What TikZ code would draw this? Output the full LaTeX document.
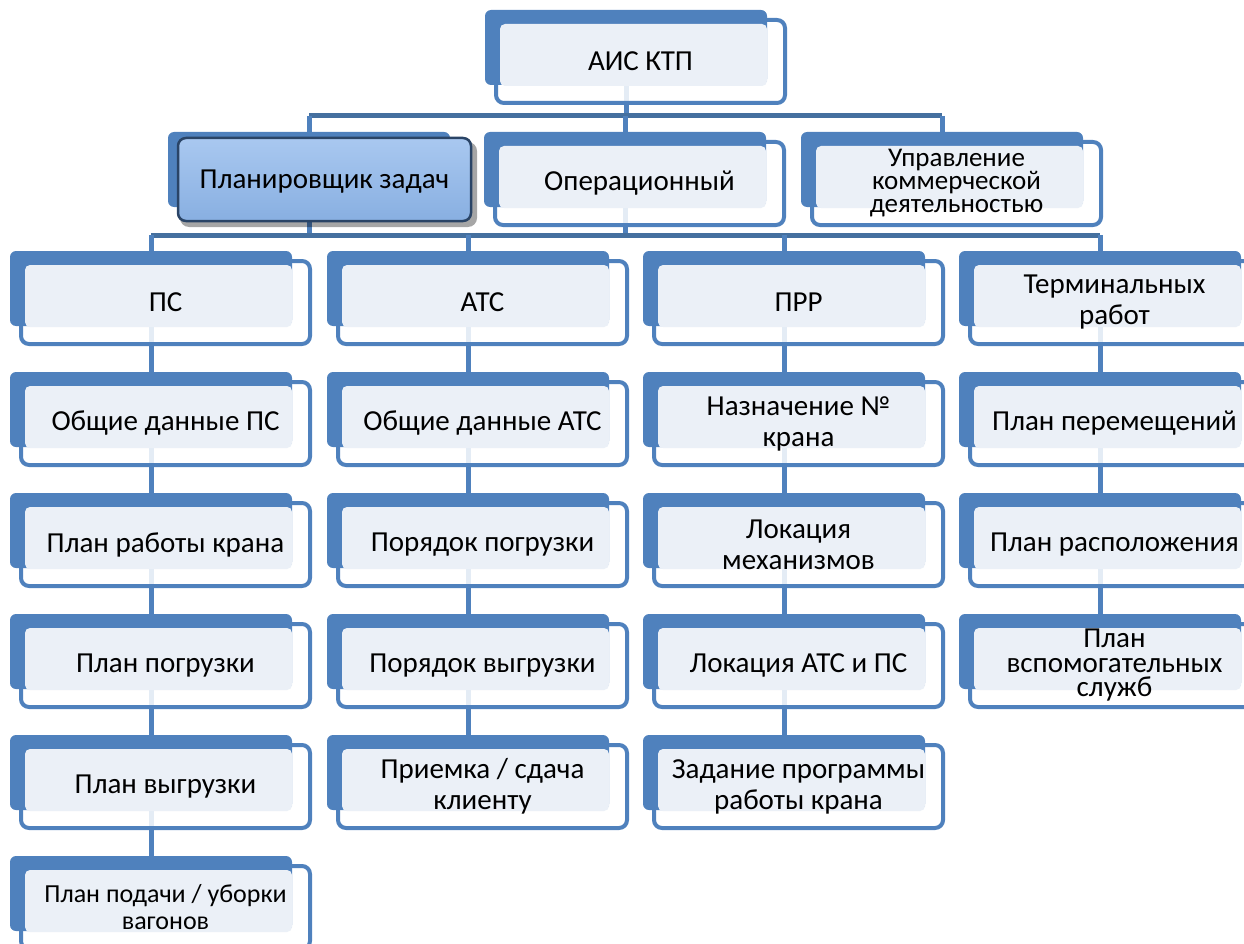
\documentclass[tikz,border=0pt]{standalone}
\usepackage{fontspec}
\setmainfont{Carlito}
\definecolor{accent}{HTML}{4F81BD}
\definecolor{lightfill}{HTML}{EBF0F7}
\definecolor{busline}{HTML}{45709F}
\definecolor{hlborder}{HTML}{2A4466}
\definecolor{hltop}{HTML}{A9C8F0}
\definecolor{hlbot}{HTML}{88AFE1}
\pgfdeclarelayer{conn}
\pgfsetlayers{conn,main}
\tikzset{
  backbox/.style={rectangle, rounded corners=6pt, fill=accent, inner sep=0pt,
    minimum width=282pt, minimum height=75pt},
  frontbox/.style={fill=white, fill opacity=0.85, draw=accent, draw opacity=1,
    line width=4pt, rounded corners=8pt},
  lightbox/.style={fill=lightfill, rounded corners=5pt},
  boxtext/.style={align=center, text=black, inner sep=0pt,
    font=\fontsize{29}{31}\selectfont},
  vline/.style={draw=accent, line width=5pt},
  bus/.style={draw=busline, line width=5pt},
}
% #1 extra text style, #2 name, #3 x, #4 y (top-left of back box), #5 text
\newcommand\orgbox[5][]{%
  \path[frontbox] (#3+11,#4+10) rectangle (#3+300,#4+93);
  \node[backbox] (#2) at (#3+141,#4+37.5) {};
  \path[lightbox] (#3+15,#4+14) rectangle (#3+282,#4+76);
  \node[boxtext,#1] (#2-t) at (#3+155.5,#4+51.5) {#5};
}
\begin{document}
\begin{tikzpicture}[x=1pt,y=-1pt]
\useasboundingbox (0,0) rectangle (1244,944);
% level 1
\orgbox{ais}{485}{10}{АИС КТП}
% level 2
\node[backbox] (plan) at (168+141,132+37.5) {};
\path[fill=black, opacity=0.35, rounded corners=9pt] (180,142) rectangle (477,227);
\path[top color=hltop, bottom color=hlbot, draw=hlborder, line width=2.5pt, rounded corners=8pt]
  (178,138) rectangle (471,221);
\node[boxtext] (plan-t) at (324.5,182) {Планировщик задач};
\orgbox{oper}{484}{132}{Операционный}
\orgbox[font=\fontsize{27}{23}\selectfont]{upr}{801}{132}{Управление\\коммерческой\\деятельностью}
% column 1
\orgbox{ps}{10}{251}{ПС}
\orgbox{ps2}{10}{372}{Общие данные ПС}
\orgbox{ps3}{10}{493}{План работы крана}
\orgbox{ps4}{10}{614}{План погрузки}
\orgbox{ps5}{10}{735}{План выгрузки}
\orgbox[font=\fontsize{26}{27}\selectfont]{ps6}{10}{856}{План подачи / уборки\\вагонов}
% column 2
\orgbox{ats}{327}{251}{АТС}
\orgbox{ats2}{327}{372}{Общие данные АТС}
\orgbox{ats3}{327}{493}{Порядок погрузки}
\orgbox{ats4}{327}{614}{Порядок выгрузки}
\orgbox{ats5}{327}{735}{Приемка / сдача\\клиенту}
% column 3
\orgbox{prr}{643}{251}{ПРР}
\orgbox{prr2}{643}{372}{Назначение №\\крана}
\orgbox{prr3}{643}{493}{Локация\\механизмов}
\orgbox{prr4}{643}{614}{Локация АТС и ПС}
\orgbox{prr5}{643}{735}{Задание программы\\работы крана}
% column 4
\orgbox{term}{959}{251}{Терминальных\\работ}
\orgbox{term2}{959}{372}{План перемещений}
\orgbox{term3}{959}{493}{План расположения}
\orgbox[font=\fontsize{29}{24.5}\selectfont]{term4}{959}{614}{План\\вспомогательных\\служб}
% connectors
\begin{pgfonlayer}{conn}
  \coordinate (bus1) at (626,116);
  \coordinate (bus2) at (626,235);
  \draw[vline] (ais.south) -- (ais.south |- bus1);
  \draw[bus] (plan.north |- bus1) -- (upr.north |- bus1);
  \draw[vline] (plan.north |- bus1) -- (plan.north);
  \draw[vline] (oper.north |- bus1) -- (oper.north);
  \draw[vline] (upr.north |- bus1) -- (upr.north);
  \draw[vline] (plan.south) -- (plan.south |- bus2);
  \draw[vline] (oper.south) -- (oper.south |- bus2);
  \draw[bus] (ps.north |- bus2) -- (term.north |- bus2);
  \foreach \n in {ps,ats,prr,term} {\draw[vline] (\n.north |- bus2) -- (\n.north);}
  \draw[vline] (ps.south) -- (ps2.north);
  \draw[vline] (ps2.south) -- (ps3.north);
  \draw[vline] (ps3.south) -- (ps4.north);
  \draw[vline] (ps4.south) -- (ps5.north);
  \draw[vline] (ps5.south) -- (ps6.north);
  \draw[vline] (ats.south) -- (ats2.north);
  \draw[vline] (ats2.south) -- (ats3.north);
  \draw[vline] (ats3.south) -- (ats4.north);
  \draw[vline] (ats4.south) -- (ats5.north);
  \draw[vline] (prr.south) -- (prr2.north);
  \draw[vline] (prr2.south) -- (prr3.north);
  \draw[vline] (prr3.south) -- (prr4.north);
  \draw[vline] (prr4.south) -- (prr5.north);
  \draw[vline] (term.south) -- (term2.north);
  \draw[vline] (term2.south) -- (term3.north);
  \draw[vline] (term3.south) -- (term4.north);
\end{pgfonlayer}
\end{tikzpicture}
\end{document}
